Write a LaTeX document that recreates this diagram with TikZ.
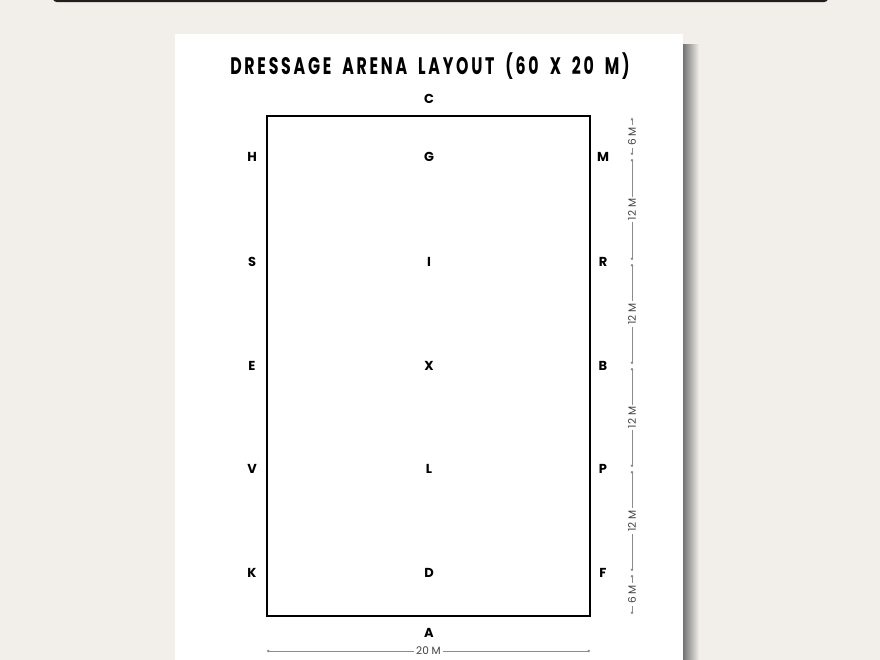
\documentclass[tikz,border=0pt]{standalone}
\usepackage{fontspec}
\setmainfont{Poppins}
\newfontfamily\titlefont[FakeStretch=0.66, LetterSpace=11.5, WordSpace=1.8]{Poppins}
\usetikzlibrary{arrows.meta, positioning, calc}
\definecolor{paper}{HTML}{F2EFEA}

\tikzset{
  marker/.style={font=\bfseries\fontsize{7.4}{8}\selectfont, inner sep=0pt},
  dimline/.style={black!45, line width=0.35pt, {Circle[length=1.4pt]}-{Circle[length=1.4pt]}},
  dimtext/.style={font=\fontsize{6}{7}\selectfont, fill=white, inner sep=1.2pt, text=black!75},
}

\begin{document}
\begin{tikzpicture}[x=0.02cm, y=-0.02cm]
    \useasboundingbox (0,0) rectangle (880,660);
    \fill[paper] (0,0) rectangle (880,660);
    % top bar
    \fill[black!88, rounded corners=2pt] (53,-6) rectangle (828,2);
    % shadow and sheet
    \shade[left color=black!55, right color=paper] (683,44) rectangle (699,660);
    \fill[white] (175,34) rectangle (683,660);
    \node[font=\titlefont\bfseries\fontsize{13.6}{16}\selectfont] (title) at (430,66) {DRESSAGE ARENA LAYOUT (60 X 20 M)};

    % arena
    \coordinate (nw) at (267,116);
    \coordinate (se) at (590,616);
    \draw[line width=1.1pt] (nw) rectangle (se);
    \node[marker] (C) at (429,99) {C};
    \node[marker] (A) at (429,633) {A};
    \foreach \l/\c/\r/\y in {H/G/M/157, S/I/R/262, E/X/B/366, V/L/P/469, K/D/F/573} {
      \node[marker] (\l) at (252,\y) {\l};
      \node[marker] (\c) at (429,\y) {\c};
      \node[marker] (\r) at (603,\y) {\r};
    }

    % side dimensions
    \foreach \n/\y in {0/116, 1/157, 2/262, 3/366, 4/469, 5/573, 6/616}
      \coordinate (d\n) at (632,\y);
    \foreach \a/\b/\t in {0/1/6 M, 1/2/12 M, 2/3/12 M, 3/4/12 M, 4/5/12 M, 5/6/6 M}
      \draw[dimline, shorten <=1.2pt, shorten >=1.2pt] (d\a) -- node[dimtext, rotate=90] {\t} (d\b);

    % width
    \coordinate (w1) at (267,651);
    \coordinate (w2) at (590,651);
    \draw[dimline] (w1) -- node[dimtext] {20 M} (w2);
\end{tikzpicture}
\end{document}
